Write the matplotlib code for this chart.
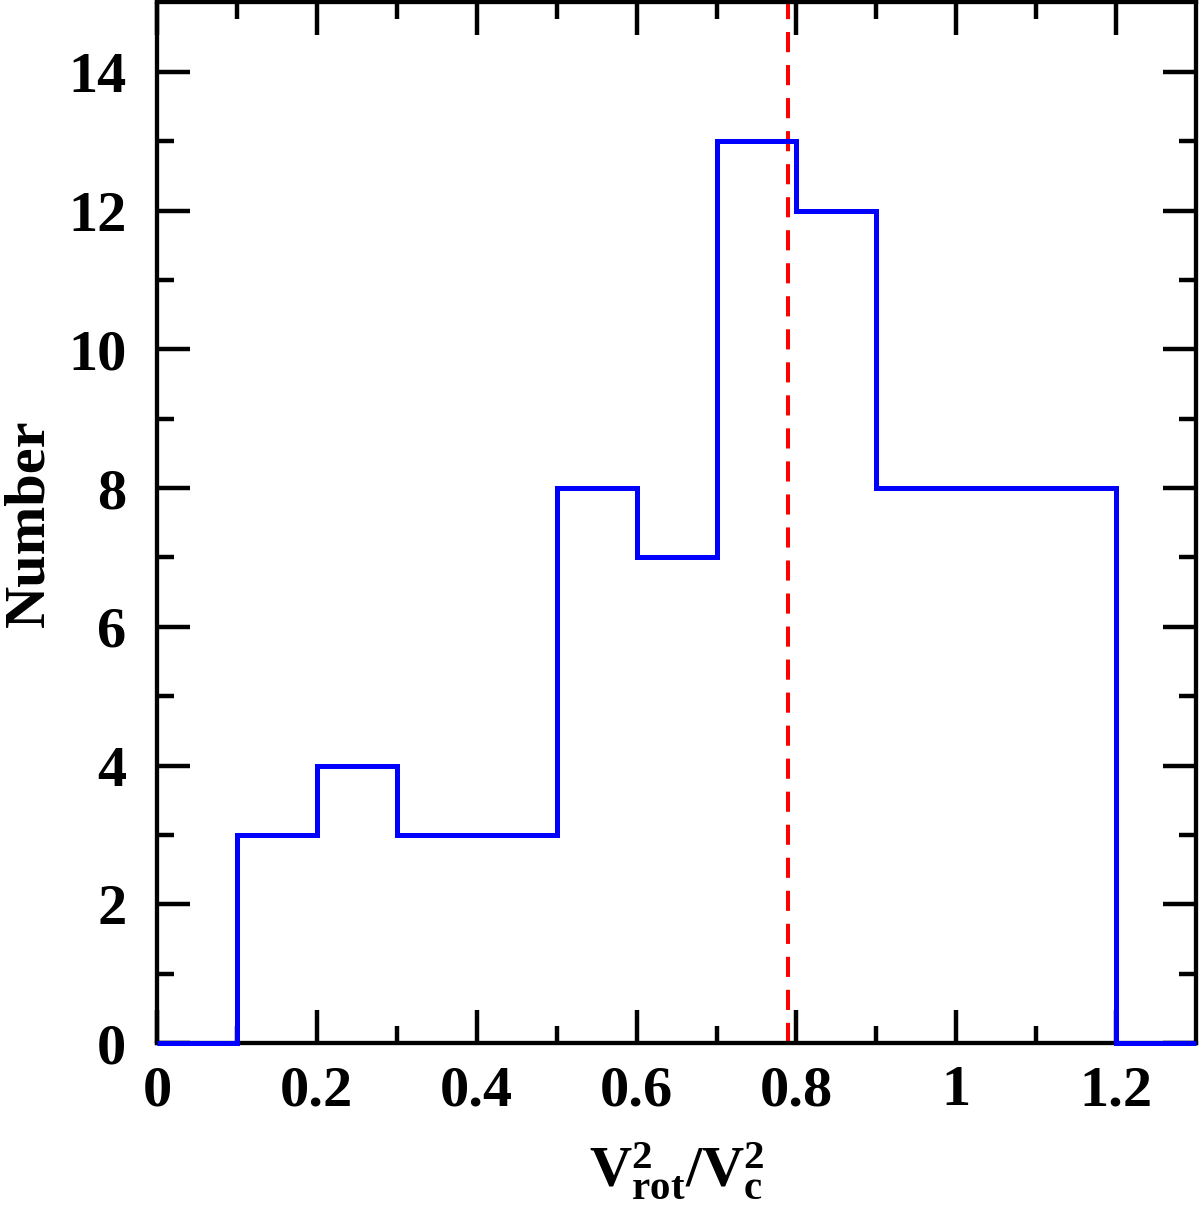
import numpy as np
import matplotlib
matplotlib.use("Agg")
from matplotlib import pyplot as plt

plt.rcParams['font.family'] = 'Liberation Serif'
plt.rcParams['font.weight'] = 'bold'
plt.rcParams['mathtext.fontset'] = 'custom'
plt.rcParams['mathtext.rm'] = 'Liberation Serif:bold'
plt.rcParams['mathtext.it'] = 'Liberation Serif:bold'
plt.rcParams['mathtext.bf'] = 'Liberation Serif:bold'

# histogram of V_rot^2 / V_c^2
bin_edges = [0.0, 0.1, 0.2, 0.3, 0.4, 0.5, 0.6, 0.7, 0.8, 0.9, 1.0, 1.1, 1.2, 1.3]
counts = [0, 3, 4, 3, 3, 8, 7, 13, 12, 8, 8, 8, 0]
median_ratio = 0.79

x_ticks = [0, 0.2, 0.4, 0.6, 0.8, 1.0, 1.2]
x_ticklabels = ["0", "0.2", "0.4", "0.6", "0.8", "1", "1.2"]
y_ticks = [0, 2, 4, 6, 8, 10, 12, 14]

fig = plt.figure(figsize=(12, 12.09), dpi=100)
ax = fig.add_axes([0.1308, 0.1373, 0.8660, 0.8607])

ax.stairs(counts, bin_edges, color="blue", linewidth=3.6, clip_on=False, zorder=3)
ax.axvline(median_ratio, color="red", linewidth=2.9, linestyle=(0, (5, 3.2)))

ax.set_xlim(0, 1.3)
ax.set_ylim(0, 15)
ax.set_xticks(x_ticks)
ax.set_xticklabels(x_ticklabels)
ax.set_xticks(np.arange(0.1, 1.3, 0.2), minor=True)
ax.set_yticks(y_ticks)
ax.set_yticks(np.arange(1, 15, 2), minor=True)

ax.tick_params(which="both", direction="in", top=True, right=True, width=3.2,
               labelsize=42)
ax.tick_params(which="major", length=24)
ax.tick_params(which="minor", length=12)
ax.tick_params(axis="x", which="major", pad=16)
ax.tick_params(axis="y", which="major", pad=22)
for sp in ax.spines.values():
    sp.set_linewidth(3.1)

ax.set_ylabel("Number", fontsize=42, fontweight="bold", labelpad=9)
ax.set_xlabel(r"$\mathbf{V^{2}_{rot}/V^{2}_{c}}$", fontsize=42, labelpad=17)

fig.savefig("out.png", dpi=100)
plt.close(fig)
